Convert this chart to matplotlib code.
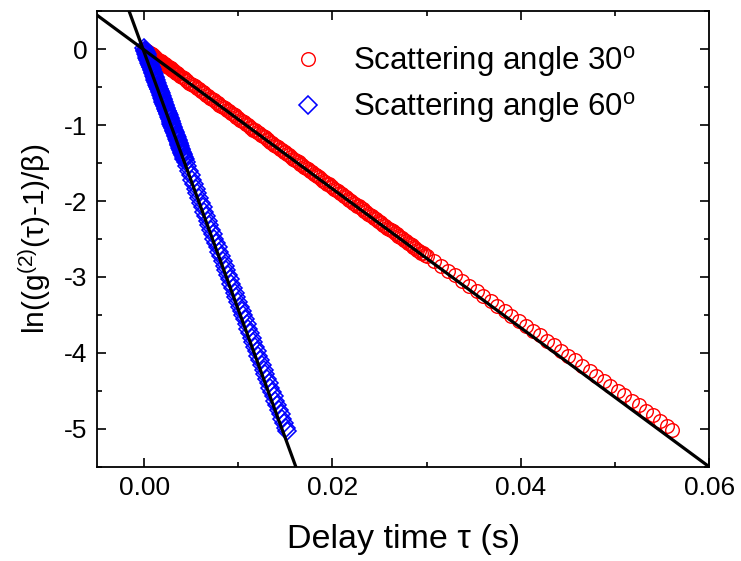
import numpy as np
import matplotlib
matplotlib.use('Agg')
import matplotlib.pyplot as plt
from matplotlib.ticker import MultipleLocator, FormatStrFormatter

plt.rcParams['font.family'] = ['Liberation Sans', 'DejaVu Sans']
plt.rcParams['mathtext.fontset'] = 'custom'
plt.rcParams['mathtext.rm'] = 'Liberation Sans'
plt.rcParams['mathtext.it'] = 'Liberation Sans:italic'
plt.rcParams['axes.unicode_minus'] = False

# scattering angle 30 deg: delay time (s) and ln((g2-1)/beta)
tau_30 = [
    0.0000, 0.0001, 0.0002, 0.0003, 0.0004, 0.0005, 0.0006, 0.0007, 0.0008, 0.0009,
    0.0010, 0.0011, 0.0012, 0.0013, 0.0014, 0.0015, 0.0016, 0.0017, 0.0018, 0.0019,
    0.0020, 0.0021, 0.0022, 0.0023, 0.0024, 0.0025, 0.0026, 0.0027, 0.0028, 0.0029,
    0.0030, 0.0031, 0.0032, 0.0033, 0.0034, 0.0035, 0.0036,
    0.0038, 0.0040, 0.0042, 0.0044, 0.0046, 0.0048, 0.0050, 0.0052, 0.0054, 0.0056,
    0.0058, 0.0060, 0.0062, 0.0064, 0.0066, 0.0068, 0.0070, 0.0072, 0.0074, 0.0076,
    0.0078, 0.0080, 0.0082, 0.0084, 0.0086, 0.0088, 0.0090, 0.0092, 0.0094, 0.0096,
    0.0098, 0.0100, 0.0102, 0.0104, 0.0106, 0.0108, 0.0110, 0.0112, 0.0114, 0.0116,
    0.0118, 0.0120, 0.0122, 0.0124, 0.0126, 0.0128, 0.0130, 0.0132, 0.0134, 0.0136,
    0.0138, 0.0140, 0.0142, 0.0144, 0.0146, 0.0148, 0.0150, 0.0152, 0.0154, 0.0156,
    0.0158, 0.0160, 0.0162, 0.0164, 0.0166, 0.0168, 0.0170, 0.0172, 0.0174, 0.0176,
    0.0178, 0.0180, 0.0182, 0.0184, 0.0186, 0.0188, 0.0190, 0.0192, 0.0194, 0.0196,
    0.0198, 0.0200, 0.0202, 0.0204, 0.0206, 0.0208, 0.0210, 0.0212, 0.0214, 0.0216,
    0.0218, 0.0220, 0.0222, 0.0224, 0.0226, 0.0228, 0.0230, 0.0232, 0.0234, 0.0236,
    0.0238, 0.0240, 0.0242, 0.0244, 0.0246, 0.0248, 0.0250, 0.0252, 0.0254, 0.0256,
    0.0258, 0.0260, 0.0262, 0.0264, 0.0266, 0.0268, 0.0270, 0.0272, 0.0274, 0.0276,
    0.0278, 0.0280, 0.0282, 0.0284, 0.0286, 0.0288, 0.0290, 0.0292, 0.0294, 0.0296,
    0.0298, 0.0300,
    0.0308, 0.0315, 0.0323, 0.0330, 0.0338, 0.0345, 0.0353, 0.0360, 0.0368, 0.0375,
    0.0383, 0.0390, 0.0398, 0.0405, 0.0413, 0.0420, 0.0428, 0.0435, 0.0443, 0.0450,
    0.0458, 0.0465, 0.0473, 0.0480, 0.0488, 0.0495, 0.0503, 0.0510, 0.0518, 0.0525,
    0.0533, 0.0540, 0.0548, 0.0555, 0.0561,
]
lng_30 = [
    0.00, -0.01, -0.02, -0.03, -0.04, -0.05, -0.05, -0.06, -0.07, -0.08,
    -0.09, -0.10, -0.11, -0.12, -0.13, -0.14, -0.15, -0.15, -0.16, -0.17,
    -0.18, -0.19, -0.20, -0.21, -0.22, -0.23, -0.24, -0.25, -0.25, -0.26,
    -0.27, -0.28, -0.29, -0.30, -0.31, -0.32, -0.33,
    -0.35, -0.36, -0.38, -0.40, -0.42, -0.44, -0.46, -0.47, -0.49, -0.51,
    -0.53, -0.55, -0.56, -0.58, -0.60, -0.62, -0.64, -0.66, -0.67, -0.69,
    -0.71, -0.73, -0.75, -0.76, -0.78, -0.80, -0.82, -0.84, -0.86, -0.87,
    -0.89, -0.91, -0.93, -0.95, -0.96, -0.98, -1.00, -1.02, -1.04, -1.06,
    -1.07, -1.09, -1.11, -1.13, -1.15, -1.16, -1.18, -1.20, -1.22, -1.24,
    -1.26, -1.27, -1.29, -1.31, -1.33, -1.35, -1.36, -1.38, -1.40, -1.42,
    -1.44, -1.46, -1.47, -1.49, -1.51, -1.53, -1.55, -1.57, -1.58, -1.60,
    -1.62, -1.64, -1.66, -1.67, -1.69, -1.71, -1.73, -1.75, -1.77, -1.78,
    -1.80, -1.82, -1.84, -1.86, -1.87, -1.89, -1.91, -1.93, -1.95, -1.97,
    -1.98, -2.00, -2.02, -2.04, -2.06, -2.07, -2.09, -2.11, -2.13, -2.15,
    -2.17, -2.18, -2.20, -2.22, -2.24, -2.26, -2.27, -2.29, -2.31, -2.33,
    -2.35, -2.37, -2.38, -2.40, -2.42, -2.44, -2.46, -2.48, -2.49, -2.51,
    -2.53, -2.55, -2.57, -2.58, -2.60, -2.62, -2.64, -2.66, -2.68, -2.69,
    -2.71, -2.73,
    -2.79, -2.85, -2.92, -2.98, -3.05, -3.12, -3.19, -3.25, -3.32, -3.38,
    -3.45, -3.51, -3.58, -3.64, -3.71, -3.77, -3.84, -3.90, -3.97, -4.04,
    -4.10, -4.17, -4.24, -4.30, -4.37, -4.43, -4.50, -4.56, -4.63, -4.69,
    -4.76, -4.82, -4.90, -4.96, -5.01,
]

# scattering angle 60 deg
tau_60 = [
    0.00000, 0.00005, 0.00010, 0.00015, 0.00020, 0.00025, 0.00030, 0.00035, 0.00040, 0.00045,
    0.00050, 0.00055, 0.00060, 0.00065, 0.00070, 0.00075, 0.00080, 0.00085, 0.00090, 0.00095,
    0.00100, 0.00105, 0.00110, 0.00115, 0.00120, 0.00125, 0.00130, 0.00135, 0.00140, 0.00145,
    0.00150, 0.00155, 0.00160, 0.00165, 0.00170, 0.00175, 0.00180, 0.00185, 0.00190, 0.00195,
    0.00200, 0.00205, 0.00210, 0.00215, 0.00220, 0.00225, 0.00230, 0.00235, 0.00240, 0.00245,
    0.00250, 0.00255, 0.00260, 0.00265, 0.00270, 0.00275, 0.00280, 0.00285, 0.00290, 0.00295,
    0.00300, 0.00305, 0.00310, 0.00315, 0.00320, 0.00325, 0.00330, 0.00335, 0.00340, 0.00345,
    0.00350, 0.00355, 0.00360, 0.00365, 0.00370, 0.00375, 0.00380, 0.00385, 0.00390, 0.00395,
    0.00400, 0.00405, 0.00410, 0.00415, 0.00420, 0.00425, 0.00430,
    0.00440, 0.00458, 0.00476, 0.00494, 0.00512, 0.00530, 0.00548, 0.00566, 0.00584, 0.00602,
    0.00620, 0.00638, 0.00656, 0.00674, 0.00692, 0.00710, 0.00728, 0.00746, 0.00764, 0.00782,
    0.00800, 0.00818, 0.00836, 0.00854, 0.00872, 0.00890, 0.00908, 0.00926, 0.00944, 0.00962,
    0.00980, 0.00998, 0.01016, 0.01034, 0.01052, 0.01070, 0.01088, 0.01106, 0.01124, 0.01142,
    0.01160, 0.01178, 0.01196, 0.01214, 0.01232, 0.01250, 0.01268, 0.01286, 0.01304, 0.01322,
    0.01340, 0.01358, 0.01376, 0.01394, 0.01412, 0.01430, 0.01448, 0.01466, 0.01484, 0.01502,
    0.01515,
]
lng_60 = [
    0.01, -0.01, -0.02, -0.04, -0.06, -0.07, -0.09, -0.11, -0.13, -0.14,
    -0.16, -0.18, -0.19, -0.21, -0.23, -0.24, -0.26, -0.28, -0.30, -0.31,
    -0.33, -0.35, -0.36, -0.38, -0.40, -0.41, -0.43, -0.45, -0.47, -0.48,
    -0.50, -0.52, -0.53, -0.55, -0.57, -0.58, -0.60, -0.62, -0.64, -0.65,
    -0.67, -0.69, -0.70, -0.72, -0.74, -0.75, -0.77, -0.79, -0.81, -0.82,
    -0.84, -0.86, -0.87, -0.89, -0.91, -0.92, -0.94, -0.96, -0.98, -0.99,
    -1.01, -1.03, -1.04, -1.06, -1.08, -1.09, -1.11, -1.13, -1.15, -1.16,
    -1.18, -1.20, -1.21, -1.23, -1.25, -1.26, -1.28, -1.30, -1.32, -1.33,
    -1.35, -1.37, -1.38, -1.40, -1.42, -1.44, -1.45,
    -1.48, -1.54, -1.60, -1.66, -1.72, -1.78, -1.84, -1.90, -1.96, -2.02,
    -2.08, -2.14, -2.20, -2.26, -2.32, -2.38, -2.44, -2.50, -2.55, -2.61,
    -2.67, -2.73, -2.79, -2.85, -2.91, -2.97, -3.03, -3.09, -3.15, -3.21,
    -3.27, -3.33, -3.39, -3.45, -3.50, -3.56, -3.62, -3.68, -3.74, -3.80,
    -3.86, -3.92, -3.98, -4.04, -4.10, -4.16, -4.22, -4.28, -4.34, -4.40,
    -4.46, -4.51, -4.57, -4.63, -4.69, -4.75, -4.81, -4.87, -4.93, -4.99,
    -5.03,
]

# linear fits: (intercept, slope)
fit_30 = (-0.01, -91.5)
fit_60 = (-0.04, -339.0)

labels = ['Scattering angle 30$^\\mathrm{o}$', 'Scattering angle 60$^\\mathrm{o}$']

xlim = (-0.005, 0.06)
ylim = (-5.5, 0.5)


fig = plt.figure(figsize=(7.41, 5.61), dpi=100)
ax = fig.add_axes([0.131, 0.168, 0.826, 0.812])

ax.plot(tau_30, lng_30, 'o', ls='none', ms=9.8, mfc='none', mec='#ff0000', mew=1.0,
        label=labels[0], zorder=2)
ax.plot(tau_60, lng_60, 'D', ls='none', ms=8.8, mfc='none', mec='#0000ff', mew=1.15,
        label=labels[1], zorder=2)

xf = np.array(xlim)
ax.plot(xf, fit_30[0] + fit_30[1] * xf, color='black', lw=2.3, zorder=3)
ax.plot(xf, fit_60[0] + fit_60[1] * xf, color='black', lw=2.3, zorder=3)

ax.set_xlim(*xlim)
ax.set_ylim(*ylim)

ax.xaxis.set_major_locator(MultipleLocator(0.02))
ax.xaxis.set_minor_locator(MultipleLocator(0.01))
ax.yaxis.set_major_locator(MultipleLocator(1))
ax.yaxis.set_minor_locator(MultipleLocator(0.5))
ax.xaxis.set_major_formatter(FormatStrFormatter('%.2f'))

ax.tick_params(which='both', direction='in', top=True, right=True, width=1.2,
               labelsize=19, pad=7)
ax.tick_params(which='major', length=6.5)
ax.tick_params(which='minor', length=3.6)
for s in ax.spines.values():
    s.set_linewidth(1.3)

ax.set_xlabel('Delay time τ (s)', fontsize=24.5, labelpad=17)
ax.set_ylabel('ln((g$^{(2)}$(τ)-1)/β)', fontsize=21.5, labelpad=8)

ax.legend(loc='upper left', bbox_to_anchor=(0.319, 0.928), frameon=False,
          fontsize=22.5, handlelength=1.0, handletextpad=0.95, borderpad=0,
          borderaxespad=0, labelspacing=0.35)

fig.savefig('out.png', dpi=100)
